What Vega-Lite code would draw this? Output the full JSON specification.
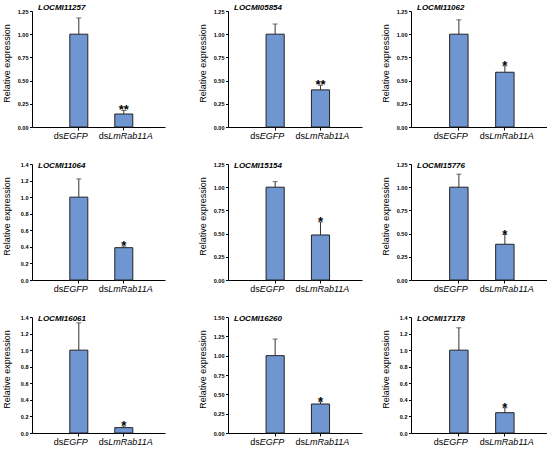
{
  "$schema": "https://vega.github.io/schema/vega-lite/v6.json",
  "padding": {"left": 1, "top": 4, "right": 0, "bottom": 0},
  "datasets": {
    "expr": [
      {"gene": "LOCMI11257", "group": "dsEGFP", "suffix": "EGFP", "value": 1.0, "hi": 1.175, "sig": ""},
      {"gene": "LOCMI11257", "group": "dsLmRab11A", "suffix": "LmRab11A", "value": 0.14, "hi": 0.178, "sig": "**"},
      {"gene": "LOCMI05854", "group": "dsEGFP", "suffix": "EGFP", "value": 1.0, "hi": 1.11, "sig": ""},
      {"gene": "LOCMI05854", "group": "dsLmRab11A", "suffix": "LmRab11A", "value": 0.4, "hi": 0.45, "sig": "**"},
      {"gene": "LOCMI11062", "group": "dsEGFP", "suffix": "EGFP", "value": 1.0, "hi": 1.155, "sig": ""},
      {"gene": "LOCMI11062", "group": "dsLmRab11A", "suffix": "LmRab11A", "value": 0.59, "hi": 0.66, "sig": "*"},
      {"gene": "LOCMI11064", "group": "dsEGFP", "suffix": "EGFP", "value": 1.0, "hi": 1.22, "sig": ""},
      {"gene": "LOCMI11064", "group": "dsLmRab11A", "suffix": "LmRab11A", "value": 0.39, "hi": 0.41, "sig": "*"},
      {"gene": "LOCMI15154", "group": "dsEGFP", "suffix": "EGFP", "value": 1.0, "hi": 1.06, "sig": ""},
      {"gene": "LOCMI15154", "group": "dsLmRab11A", "suffix": "LmRab11A", "value": 0.485, "hi": 0.625, "sig": "*"},
      {"gene": "LOCMI15776", "group": "dsEGFP", "suffix": "EGFP", "value": 1.0, "hi": 1.14, "sig": ""},
      {"gene": "LOCMI15776", "group": "dsLmRab11A", "suffix": "LmRab11A", "value": 0.385, "hi": 0.49, "sig": "*"},
      {"gene": "LOCMI16061", "group": "dsEGFP", "suffix": "EGFP", "value": 1.0, "hi": 1.33, "sig": ""},
      {"gene": "LOCMI16061", "group": "dsLmRab11A", "suffix": "LmRab11A", "value": 0.065, "hi": 0.085, "sig": "*"},
      {"gene": "LOCMI16260", "group": "dsEGFP", "suffix": "EGFP", "value": 1.0, "hi": 1.215, "sig": ""},
      {"gene": "LOCMI16260", "group": "dsLmRab11A", "suffix": "LmRab11A", "value": 0.375, "hi": 0.405, "sig": "*"},
      {"gene": "LOCMI17178", "group": "dsEGFP", "suffix": "EGFP", "value": 1.0, "hi": 1.27, "sig": ""},
      {"gene": "LOCMI17178", "group": "dsLmRab11A", "suffix": "LmRab11A", "value": 0.245, "hi": 0.305, "sig": "*"}
    ]
  },
  "spacing": 21,
  "vconcat": [
    {
      "spacing": 32,
      "hconcat": [
        {
          "width": 133, "height": 116,
          "title": "LOCMI11257",
          "data": {"name": "expr"},
          "transform": [{"filter": "datum.gene === 'LOCMI11257'"}],
          "encoding": {
            "x": {"field": "group", "type": "nominal", "sort": null, "title": null, "scale": {"paddingInner": 0.6, "paddingOuter": 0.778, "align": 0.54}, "axis": {"labels": false}},
            "y": {"field": "value", "type": "quantitative", "title": "Relative expression", "scale": {"domain": [0, 1.25], "nice": false}, "axis": {"values": [0, 0.25, 0.5, 0.75, 1, 1.25], "format": ".2f", "labelOverlap": false}}
          },
          "layer": [
            {"mark": {"type": "bar", "color": "#7096d2", "stroke": "#222222", "strokeWidth": 1}},
            {"mark": {"type": "rule", "color": "#333333"}, "encoding": {"y2": {"field": "hi"}}},
            {"mark": {"type": "tick", "color": "#333333", "size": 5, "thickness": 1}, "encoding": {"y": {"field": "hi", "type": "quantitative"}}},
            {"mark": {"type": "text", "fontSize": 13, "fontWeight": "bold", "baseline": "alphabetic", "dy": 4}, "encoding": {"y": {"field": "hi", "type": "quantitative"}, "text": {"field": "sig"}}},
            {"mark": {"type": "text", "text": "ds", "align": "right", "baseline": "alphabetic", "dx": -15.5, "dy": 12, "fontSize": 9}, "encoding": {"y": {"datum": 0}}},
            {"mark": {"type": "text", "align": "left", "baseline": "alphabetic", "dx": -15.5, "dy": 12, "fontSize": 9, "fontStyle": "italic"}, "encoding": {"y": {"datum": 0}, "text": {"field": "suffix"}}}
          ]
        },
        {
          "spacing": 18,
          "hconcat": [
            {
              "width": 134, "height": 116,
              "title": "LOCMI05854",
              "data": {"name": "expr"},
              "transform": [{"filter": "datum.gene === 'LOCMI05854'"}],
              "encoding": {
                "x": {"field": "group", "type": "nominal", "sort": null, "title": null, "scale": {"paddingInner": 0.6, "paddingOuter": 0.778, "align": 0.54}, "axis": {"labels": false}},
                "y": {"field": "value", "type": "quantitative", "title": "Relative expression", "scale": {"domain": [0, 1.25], "nice": false}, "axis": {"values": [0, 0.25, 0.5, 0.75, 1, 1.25], "format": ".2f", "labelOverlap": false}}
              },
              "layer": [
                {"mark": {"type": "bar", "color": "#7096d2", "stroke": "#222222", "strokeWidth": 1}},
                {"mark": {"type": "rule", "color": "#333333"}, "encoding": {"y2": {"field": "hi"}}},
                {"mark": {"type": "tick", "color": "#333333", "size": 5, "thickness": 1}, "encoding": {"y": {"field": "hi", "type": "quantitative"}}},
                {"mark": {"type": "text", "fontSize": 13, "fontWeight": "bold", "baseline": "alphabetic", "dy": 4}, "encoding": {"y": {"field": "hi", "type": "quantitative"}, "text": {"field": "sig"}}},
                {"mark": {"type": "text", "text": "ds", "align": "right", "baseline": "alphabetic", "dx": -15.5, "dy": 12, "fontSize": 9}, "encoding": {"y": {"datum": 0}}},
                {"mark": {"type": "text", "align": "left", "baseline": "alphabetic", "dx": -15.5, "dy": 12, "fontSize": 9, "fontStyle": "italic"}, "encoding": {"y": {"datum": 0}, "text": {"field": "suffix"}}}
              ]
            },
            {
              "width": 136, "height": 116,
              "title": "LOCMI11062",
              "data": {"name": "expr"},
              "transform": [{"filter": "datum.gene === 'LOCMI11062'"}],
              "encoding": {
                "x": {"field": "group", "type": "nominal", "sort": null, "title": null, "scale": {"paddingInner": 0.6, "paddingOuter": 0.778, "align": 0.54}, "axis": {"labels": false}},
                "y": {"field": "value", "type": "quantitative", "title": "Relative expression", "scale": {"domain": [0, 1.25], "nice": false}, "axis": {"values": [0, 0.25, 0.5, 0.75, 1, 1.25], "format": ".2f", "labelOverlap": false}}
              },
              "layer": [
                {"mark": {"type": "bar", "color": "#7096d2", "stroke": "#222222", "strokeWidth": 1}},
                {"mark": {"type": "rule", "color": "#333333"}, "encoding": {"y2": {"field": "hi"}}},
                {"mark": {"type": "tick", "color": "#333333", "size": 5, "thickness": 1}, "encoding": {"y": {"field": "hi", "type": "quantitative"}}},
                {"mark": {"type": "text", "fontSize": 13, "fontWeight": "bold", "baseline": "alphabetic", "dy": 4}, "encoding": {"y": {"field": "hi", "type": "quantitative"}, "text": {"field": "sig"}}},
                {"mark": {"type": "text", "text": "ds", "align": "right", "baseline": "alphabetic", "dx": -15.5, "dy": 12, "fontSize": 9}, "encoding": {"y": {"datum": 0}}},
                {"mark": {"type": "text", "align": "left", "baseline": "alphabetic", "dx": -15.5, "dy": 12, "fontSize": 9, "fontStyle": "italic"}, "encoding": {"y": {"datum": 0}, "text": {"field": "suffix"}}}
              ]
            }
          ]
        }
      ]
    },
    {
      "spacing": 32,
      "hconcat": [
        {
          "width": 133, "height": 116,
          "title": {"text": "LOCMI11064", "offset": -8},
          "data": {"name": "expr"},
          "transform": [{"filter": "datum.gene === 'LOCMI11064'"}],
          "encoding": {
            "x": {"field": "group", "type": "nominal", "sort": null, "title": null, "scale": {"paddingInner": 0.6, "paddingOuter": 0.778, "align": 0.54}, "axis": {"labels": false}},
            "y": {"field": "value", "type": "quantitative", "title": "Relative expression", "scale": {"domain": [0, 1.4], "nice": false}, "axis": {"values": [0, 0.2, 0.4, 0.6, 0.8, 1, 1.2, 1.4], "format": ".1f", "labelOverlap": false}}
          },
          "layer": [
            {"mark": {"type": "bar", "color": "#7096d2", "stroke": "#222222", "strokeWidth": 1}},
            {"mark": {"type": "rule", "color": "#333333"}, "encoding": {"y2": {"field": "hi"}}},
            {"mark": {"type": "tick", "color": "#333333", "size": 5, "thickness": 1}, "encoding": {"y": {"field": "hi", "type": "quantitative"}}},
            {"mark": {"type": "text", "fontSize": 13, "fontWeight": "bold", "baseline": "alphabetic", "dy": 4}, "encoding": {"y": {"field": "hi", "type": "quantitative"}, "text": {"field": "sig"}}},
            {"mark": {"type": "text", "text": "ds", "align": "right", "baseline": "alphabetic", "dx": -15.5, "dy": 12, "fontSize": 9}, "encoding": {"y": {"datum": 0}}},
            {"mark": {"type": "text", "align": "left", "baseline": "alphabetic", "dx": -15.5, "dy": 12, "fontSize": 9, "fontStyle": "italic"}, "encoding": {"y": {"datum": 0}, "text": {"field": "suffix"}}}
          ]
        },
        {
          "spacing": 18,
          "hconcat": [
            {
              "width": 134, "height": 116,
              "title": {"text": "LOCMI15154", "offset": -8},
              "data": {"name": "expr"},
              "transform": [{"filter": "datum.gene === 'LOCMI15154'"}],
              "encoding": {
                "x": {"field": "group", "type": "nominal", "sort": null, "title": null, "scale": {"paddingInner": 0.6, "paddingOuter": 0.778, "align": 0.54}, "axis": {"labels": false}},
                "y": {"field": "value", "type": "quantitative", "title": "Relative expression", "scale": {"domain": [0, 1.25], "nice": false}, "axis": {"values": [0, 0.25, 0.5, 0.75, 1, 1.25], "format": ".2f", "labelOverlap": false}}
              },
              "layer": [
                {"mark": {"type": "bar", "color": "#7096d2", "stroke": "#222222", "strokeWidth": 1}},
                {"mark": {"type": "rule", "color": "#333333"}, "encoding": {"y2": {"field": "hi"}}},
                {"mark": {"type": "tick", "color": "#333333", "size": 5, "thickness": 1}, "encoding": {"y": {"field": "hi", "type": "quantitative"}}},
                {"mark": {"type": "text", "fontSize": 13, "fontWeight": "bold", "baseline": "alphabetic", "dy": 4}, "encoding": {"y": {"field": "hi", "type": "quantitative"}, "text": {"field": "sig"}}},
                {"mark": {"type": "text", "text": "ds", "align": "right", "baseline": "alphabetic", "dx": -15.5, "dy": 12, "fontSize": 9}, "encoding": {"y": {"datum": 0}}},
                {"mark": {"type": "text", "align": "left", "baseline": "alphabetic", "dx": -15.5, "dy": 12, "fontSize": 9, "fontStyle": "italic"}, "encoding": {"y": {"datum": 0}, "text": {"field": "suffix"}}}
              ]
            },
            {
              "width": 136, "height": 116,
              "title": {"text": "LOCMI15776", "offset": -8},
              "data": {"name": "expr"},
              "transform": [{"filter": "datum.gene === 'LOCMI15776'"}],
              "encoding": {
                "x": {"field": "group", "type": "nominal", "sort": null, "title": null, "scale": {"paddingInner": 0.6, "paddingOuter": 0.778, "align": 0.54}, "axis": {"labels": false}},
                "y": {"field": "value", "type": "quantitative", "title": "Relative expression", "scale": {"domain": [0, 1.25], "nice": false}, "axis": {"values": [0, 0.25, 0.5, 0.75, 1, 1.25], "format": ".2f", "labelOverlap": false}}
              },
              "layer": [
                {"mark": {"type": "bar", "color": "#7096d2", "stroke": "#222222", "strokeWidth": 1}},
                {"mark": {"type": "rule", "color": "#333333"}, "encoding": {"y2": {"field": "hi"}}},
                {"mark": {"type": "tick", "color": "#333333", "size": 5, "thickness": 1}, "encoding": {"y": {"field": "hi", "type": "quantitative"}}},
                {"mark": {"type": "text", "fontSize": 13, "fontWeight": "bold", "baseline": "alphabetic", "dy": 4}, "encoding": {"y": {"field": "hi", "type": "quantitative"}, "text": {"field": "sig"}}},
                {"mark": {"type": "text", "text": "ds", "align": "right", "baseline": "alphabetic", "dx": -15.5, "dy": 12, "fontSize": 9}, "encoding": {"y": {"datum": 0}}},
                {"mark": {"type": "text", "align": "left", "baseline": "alphabetic", "dx": -15.5, "dy": 12, "fontSize": 9, "fontStyle": "italic"}, "encoding": {"y": {"datum": 0}, "text": {"field": "suffix"}}}
              ]
            }
          ]
        }
      ]
    },
    {
      "spacing": 32,
      "hconcat": [
        {
          "width": 133, "height": 116,
          "title": {"text": "LOCMI16061", "offset": -8},
          "data": {"name": "expr"},
          "transform": [{"filter": "datum.gene === 'LOCMI16061'"}],
          "encoding": {
            "x": {"field": "group", "type": "nominal", "sort": null, "title": null, "scale": {"paddingInner": 0.6, "paddingOuter": 0.778, "align": 0.54}, "axis": {"labels": false}},
            "y": {"field": "value", "type": "quantitative", "title": "Relative expression", "scale": {"domain": [0, 1.4], "nice": false}, "axis": {"values": [0, 0.2, 0.4, 0.6, 0.8, 1, 1.2, 1.4], "format": ".1f", "labelOverlap": false}}
          },
          "layer": [
            {"mark": {"type": "bar", "color": "#7096d2", "stroke": "#222222", "strokeWidth": 1}},
            {"mark": {"type": "rule", "color": "#333333"}, "encoding": {"y2": {"field": "hi"}}},
            {"mark": {"type": "tick", "color": "#333333", "size": 5, "thickness": 1}, "encoding": {"y": {"field": "hi", "type": "quantitative"}}},
            {"mark": {"type": "text", "fontSize": 13, "fontWeight": "bold", "baseline": "alphabetic", "dy": 4}, "encoding": {"y": {"field": "hi", "type": "quantitative"}, "text": {"field": "sig"}}},
            {"mark": {"type": "text", "text": "ds", "align": "right", "baseline": "alphabetic", "dx": -15.5, "dy": 12, "fontSize": 9}, "encoding": {"y": {"datum": 0}}},
            {"mark": {"type": "text", "align": "left", "baseline": "alphabetic", "dx": -15.5, "dy": 12, "fontSize": 9, "fontStyle": "italic"}, "encoding": {"y": {"datum": 0}, "text": {"field": "suffix"}}}
          ]
        },
        {
          "spacing": 18,
          "hconcat": [
            {
              "width": 134, "height": 116,
              "title": {"text": "LOCMI16260", "offset": -8},
              "data": {"name": "expr"},
              "transform": [{"filter": "datum.gene === 'LOCMI16260'"}],
              "encoding": {
                "x": {"field": "group", "type": "nominal", "sort": null, "title": null, "scale": {"paddingInner": 0.6, "paddingOuter": 0.778, "align": 0.54}, "axis": {"labels": false}},
                "y": {"field": "value", "type": "quantitative", "title": "Relative expression", "scale": {"domain": [0, 1.5], "nice": false}, "axis": {"values": [0, 0.25, 0.5, 0.75, 1, 1.25, 1.5], "format": ".2f", "labelOverlap": false}}
              },
              "layer": [
                {"mark": {"type": "bar", "color": "#7096d2", "stroke": "#222222", "strokeWidth": 1}},
                {"mark": {"type": "rule", "color": "#333333"}, "encoding": {"y2": {"field": "hi"}}},
                {"mark": {"type": "tick", "color": "#333333", "size": 5, "thickness": 1}, "encoding": {"y": {"field": "hi", "type": "quantitative"}}},
                {"mark": {"type": "text", "fontSize": 13, "fontWeight": "bold", "baseline": "alphabetic", "dy": 4}, "encoding": {"y": {"field": "hi", "type": "quantitative"}, "text": {"field": "sig"}}},
                {"mark": {"type": "text", "text": "ds", "align": "right", "baseline": "alphabetic", "dx": -15.5, "dy": 12, "fontSize": 9}, "encoding": {"y": {"datum": 0}}},
                {"mark": {"type": "text", "align": "left", "baseline": "alphabetic", "dx": -15.5, "dy": 12, "fontSize": 9, "fontStyle": "italic"}, "encoding": {"y": {"datum": 0}, "text": {"field": "suffix"}}}
              ]
            },
            {
              "width": 136, "height": 116,
              "title": {"text": "LOCMI17178", "offset": -8},
              "data": {"name": "expr"},
              "transform": [{"filter": "datum.gene === 'LOCMI17178'"}],
              "encoding": {
                "x": {"field": "group", "type": "nominal", "sort": null, "title": null, "scale": {"paddingInner": 0.6, "paddingOuter": 0.778, "align": 0.54}, "axis": {"labels": false}},
                "y": {"field": "value", "type": "quantitative", "title": "Relative expression", "scale": {"domain": [0, 1.4], "nice": false}, "axis": {"values": [0, 0.2, 0.4, 0.6, 0.8, 1, 1.2, 1.4], "format": ".1f", "labelOverlap": false}}
              },
              "layer": [
                {"mark": {"type": "bar", "color": "#7096d2", "stroke": "#222222", "strokeWidth": 1}},
                {"mark": {"type": "rule", "color": "#333333"}, "encoding": {"y2": {"field": "hi"}}},
                {"mark": {"type": "tick", "color": "#333333", "size": 5, "thickness": 1}, "encoding": {"y": {"field": "hi", "type": "quantitative"}}},
                {"mark": {"type": "text", "fontSize": 13, "fontWeight": "bold", "baseline": "alphabetic", "dy": 4}, "encoding": {"y": {"field": "hi", "type": "quantitative"}, "text": {"field": "sig"}}},
                {"mark": {"type": "text", "text": "ds", "align": "right", "baseline": "alphabetic", "dx": -15.5, "dy": 12, "fontSize": 9}, "encoding": {"y": {"datum": 0}}},
                {"mark": {"type": "text", "align": "left", "baseline": "alphabetic", "dx": -15.5, "dy": 12, "fontSize": 9, "fontStyle": "italic"}, "encoding": {"y": {"datum": 0}, "text": {"field": "suffix"}}}
              ]
            }
          ]
        }
      ]
    }
  ],
  "config": {
    "font": "Liberation Sans",
    "view": {"stroke": null},
    "axis": {"grid": false, "domainColor": "#000000", "tickColor": "#000000", "labelColor": "#000000", "titleColor": "#000000", "domainWidth": 1, "tickWidth": 1},
    "axisX": {"tickSize": 3},
    "axisY": {"labelFontSize": 5.5, "labelFontWeight": "bold", "labelPadding": 1.5, "tickSize": 2.5, "titleFontSize": 9, "titleFontWeight": "normal", "titleX": -21, "titleY": 52},
    "title": {"anchor": "start", "frame": "group", "fontSize": 8, "fontStyle": "italic", "fontWeight": "bold", "baseline": "middle", "offset": -3, "dx": 6, "color": "#000000"}
  }
}
